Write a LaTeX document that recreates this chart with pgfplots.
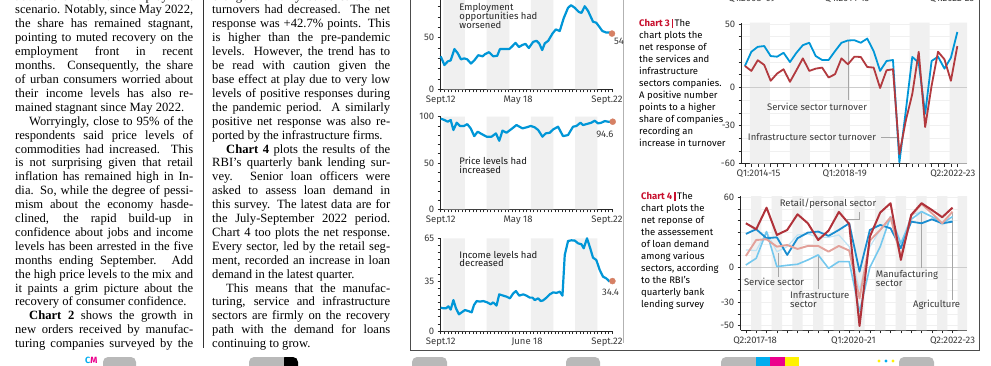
\documentclass[border=0pt]{standalone}
\usepackage{fontspec}
\setmainfont{Liberation Serif}
\newfontfamily\cf{Fira Sans}
\usepackage{pgfplots}
\pgfplotsset{compat=1.18}
\definecolor{bl}{HTML}{0096D7}
\definecolor{dotc}{HTML}{D68064}
\definecolor{cthree}{HTML}{B23A3F}
\definecolor{dred}{HTML}{B0323A}
\definecolor{cblue}{HTML}{1A8DD0}
\definecolor{salm}{HTML}{E3A19A}
\definecolor{lblue}{HTML}{74C8EE}
\definecolor{vlblue}{HTML}{BEE3F4}
\definecolor{band}{HTML}{F0F0F0}
\definecolor{chred}{HTML}{C8102E}
\definecolor{txg}{HTML}{3A3A3A}
\newcommand\jl[3]{\node[anchor=mid west,inner sep=0pt] at (#1,#2) {\makebox[178pt][s]{#3}};}
\newcommand\tl[3]{\node[anchor=mid west,inner sep=0pt] at (#1,#2) {#3};}
\newcommand\cfs{\cf\fontsize{9.5}{11}\selectfont}
\pgfplotsset{
  base/.style={scale only axis, axis x line=bottom, axis y line=left,
    axis line style={black!85,line width=0.6pt,-}, tick align=outside,
    major tick length=3pt, minor tick length=3pt,
    every tick/.style={black!85,line width=0.5pt},
    major x tick style={draw=none},
    tick label style={font=\cfs, text=txg},
    /pgf/number format/assume math mode=true, clip=false},
  small/.style={base, width=171.3pt, xmin=0, xmax=120,
    minor xtick={0,2.5,...,120}},
}
\begin{document}
\begin{tikzpicture}
\useasboundingbox (0,0) rectangle (991pt,-365pt);
\clip (0,0) rectangle (991pt,-365pt);
\fill[white] (0,0) rectangle (991pt,-365pt);
\begin{scope}[x=1pt,y=-1pt,font=\fontsize{12.6}{14}\selectfont]
% left column
\jl{15}{-2.2}{about their current employment}
\jl{15}{11.7}{scenario. Notably, since May 2022,}
\jl{15}{25.6}{the share has remained stagnant,}
\jl{15}{39.5}{pointing to muted recovery on the}
\jl{15}{53.4}{employment front in recent}
\jl{15}{67.3}{months. Consequently, the share}
\jl{15}{81.2}{of urban consumers worried about}
\jl{15}{95.1}{their income levels has also re-}
\tl{15}{109}{mained stagnant since May 2022.}
\node[anchor=mid west,inner sep=0pt] at (29,122.9) {\makebox[164pt][s]{Worryingly, close to 95\% of the}};
\jl{15}{136.8}{respondents said price levels of}
\jl{15}{150.7}{commodities had increased. This}
\jl{15}{164.6}{is not surprising given that retail}
\jl{15}{178.5}{inflation has remained high in In-}
\jl{15}{192.4}{dia. So, while the degree of pessi-}
\jl{15}{206.3}{mism about the economy hasde-}
\jl{15}{220.2}{clined, the rapid build-up in}
\jl{15}{234.1}{confidence about jobs and income}
\jl{15}{248}{levels has been arrested in the five}
\jl{15}{261.9}{months ending September. Add}
\jl{15}{275.8}{the high price levels to the mix and}
\jl{15}{289.7}{it paints a grim picture about the}
\tl{15}{303.6}{recovery of consumer confidence.}
\node[anchor=mid west,inner sep=0pt] at (29,317.5) {\makebox[164pt][s]{\textbf{Chart 2} shows the growth in}};
\jl{15}{331.4}{new orders received by manufac-}
\jl{15}{345.3}{turing companies surveyed by the}
% middle column
\jl{212}{-2.2}{change and only 9.1\% said their}
\jl{212}{11.7}{turnovers had decreased. The net}
\jl{212}{25.6}{response was +42.7\% points. This}
\jl{212}{39.5}{is higher than the pre-pandemic}
\jl{212}{53.4}{levels. However, the trend has to}
\jl{212}{67.3}{be read with caution given the}
\jl{212}{81.2}{base effect at play due to very low}
\jl{212}{95.1}{levels of positive responses during}
\jl{212}{109}{the pandemic period. A similarly}
\jl{212}{122.9}{positive net response was also re-}
\tl{212}{136.8}{ported by the infrastructure firms.}
\node[anchor=mid west,inner sep=0pt] at (226,150.7) {\makebox[164pt][s]{\textbf{Chart 4} plots the results of the}};
\jl{212}{164.6}{RBI’s quarterly bank lending sur-}
\jl{212}{178.5}{vey. Senior loan officers were}
\jl{212}{192.4}{asked to assess loan demand in}
\jl{212}{206.3}{this survey. The latest data are for}
\jl{212}{220.2}{the July-September 2022 period.}
\jl{212}{234.1}{Chart 4 too plots the net response.}
\jl{212}{248}{Every sector, led by the retail seg-}
\jl{212}{261.9}{ment, recorded an increase in loan}
\tl{212}{275.8}{demand in the latest quarter.}
\node[anchor=mid west,inner sep=0pt] at (226,289.7) {\makebox[164pt][s]{This means that the manufac-}};
\jl{212}{303.6}{turing, service and infrastructure}
\jl{212}{317.5}{sectors are firmly on the recovery}
\jl{212}{331.4}{path with the demand for loans}
\tl{212}{345.3}{continuing to grow.}
% rules and frame
\draw[black!80,line width=0.6pt] (203,0) -- (203,348);
\draw[black!70,line width=0.7pt] (410.5,0) -- (410.5,350) -- (979.5,350) -- (979.5,0);
\draw[black!30,line width=0.5pt] (623,0) -- (623,343);
% chart descriptions
\begin{scope}[font=\cfs]
\tl{639}{24}{\textcolor{chred}{\textbf{Chart 3}}\,\textcolor{chred}{\rule[-1.5pt]{1.6pt}{9pt}}\,The}
\tl{639}{36}{chart plots the}
\tl{639}{48}{net response of}
\tl{639}{60}{the services and}
\tl{639}{72}{infrastructure}
\tl{639}{84}{sectors companies.}
\tl{639}{96}{A positive number}
\tl{639}{108}{points to a higher}
\tl{639}{120}{share of companies}
\tl{639}{132}{recording an}
\tl{639}{144}{increase in turnover}
\tl{641}{197}{\textcolor{chred}{\textbf{Chart 4}}\,\textcolor{chred}{\rule[-1.5pt]{1.6pt}{9pt}}\,The}
\tl{641}{209}{chart plots the}
\tl{641}{221}{net reponse of}
\tl{641}{233}{the assessement}
\tl{641}{245}{of loan demand}
\tl{641}{257}{among various}
\tl{641}{269}{sectors, according}
\tl{641}{281}{to the RBI’s}
\tl{641}{293}{quarterly bank}
\tl{641}{305}{lending survey}
\node[text=txg] at (752,-1) {Q1:2008-09};
\node[text=txg] at (847,-1) {Q4:2014-15};
\node[text=txg] at (952,-1) {Q1:2022-23};
\end{scope}
% print marks
\node[anchor=mid west,inner sep=0pt,font=\cf\bfseries\fontsize{9}{9}\selectfont] at (85,361) {\textcolor{cyan}{C}\textcolor{magenta}{M}};
\fill[gray!55,rounded corners=5pt] (103,357) rectangle (136,372);
\fill[gray!55,rounded corners=5pt] (249,357) rectangle (285,372);
\fill[black,rounded corners=5pt] (280,357) rectangle (298,372);
\fill[gray!55] (278,357) rectangle (284,372);
\fill[gray!55,rounded corners=5pt] (412,357) rectangle (447,372);
\fill[gray!55,rounded corners=5pt] (566,357) rectangle (600,372);
\fill[gray!55,rounded corners=5pt] (721,357) rectangle (760,372);
\fill[cyan] (756,357) rectangle (770,372);
\fill[magenta] (770,357) rectangle (785,372);
\fill[yellow] (785,357) rectangle (799,372);
\fill[yellow] (879,361) circle (1.6);
\fill[cyan] (886,361) circle (1.6);
\fill[yellow] (893,361) circle (1.6);
\fill[gray!55,rounded corners=5pt] (899,357) rectangle (934,372);
\end{scope}

% ---------- Chart A: employment
\begin{axis}[small, at={(440.7pt,-89.3pt)}, anchor=south west, height=103.2pt,
  ymin=0, ymax=100, ytick={0,50}, minor ytick={10,20,30,40,60,70,80,90},
  xtick={0,54.2,116.5}, xticklabels={Sept.12,May 18,Sept.22}]
\addplot[fill=band,draw=none] coordinates {(1.8,0)(1.8,100)(17,100)(17,0)(32.2,0)(32.2,100)(48.1,100)(48.1,0)(63.1,0)(63.1,100)(78.9,100)(78.9,0)(94.1,0)(94.1,100)(109.8,100)(109.8,0)};
\addplot[bl,line width=2.2pt,line join=round] coordinates {(0,32)(2.6,23.5)(4.9,27)(7.0,28)(9.6,39)(11.9,35)(14.2,29)(16.5,30)(18.6,29)(21.2,25)(23.5,28)(26.3,33)(29.4,32)(31.0,34)(33.8,36)(36.8,32)(39.6,32.5)(41.5,39)(45.0,39)(48.0,39)(49.6,41)(52.4,45)(54.8,41)(57.3,43)(59.4,44)(61.7,40)(64.8,46)(67.1,47)(69.0,44.5)(71.1,38)(72.9,44.5)(75.3,47)(78.3,54)(80.6,58)(83.4,56.5)(86.2,69)(89.2,79)(91.3,81.5)(93.9,79)(96.7,75)(98.6,74)(100.9,80.5)(103.2,76)(106.7,65.5)(109.0,64.5)(110.9,61)(113.2,56.5)(116.0,55)(118.4,55)(120,54)};
\addplot[only marks,mark=*,mark size=3pt,dotc] coordinates {(120,54)};
\node[font=\cfs,text=txg,anchor=west,inner sep=0pt] at (axis cs:121.3,46.5) {54};
\node[font=\cfs,text=black!85,anchor=north west,align=left,inner sep=0pt] at (axis cs:13,83) {Employment\\[-2pt]opportunities had\\[-2pt]worsened};
\end{axis}

% ---------- Chart B: price
\begin{axis}[small, at={(440.7pt,-209.3pt)}, anchor=south west, height=92.6pt,
  ymin=0, ymax=100, ytick={0,50,100}, minor ytick={10,20,30,40,60,70,80,90},
  xtick={0,54.2,116.5}, xticklabels={Sept.12,May 18,Sept.22}]
\addplot[fill=band,draw=none] coordinates {(1.8,0)(1.8,100)(17,100)(17,0)(32.2,0)(32.2,100)(48.1,100)(48.1,0)(63.1,0)(63.1,100)(78.9,100)(78.9,0)(94.1,0)(94.1,100)(109.8,100)(109.8,0)};
\addplot[bl,line width=2.2pt,line join=round] coordinates {(0,98)(2.6,96.4)(4.9,94.6)(7.0,96.4)(8.9,85.6)(11.2,93.5)(13.5,90)(16.3,90)(18.6,92)(21.0,87.4)(23.5,79)(25.9,83.8)(28.7,81.3)(32.2,78.4)(35.6,78.4)(38.7,82)(41.0,74)(43.3,85)(46.1,82.7)(49.2,86.3)(53.1,91)(57.3,87.4)(60.1,88.5)(63.1,90)(65.9,88.5)(68.3,85.6)(71.3,78.4)(73.6,82)(76.4,82.7)(78.8,86.3)(82.2,89.2)(85.7,79)(89.2,80.2)(92.7,89.2)(95.1,90)(97.9,93.5)(99.7,91)(102.1,92)(105.5,93.5)(107.9,95.7)(110.2,92.8)(112.5,93.5)(114.9,95.3)(117.2,94.6)(120,94.6)};
\addplot[only marks,mark=*,mark size=3pt,dotc] coordinates {(120.5,94.6)};
\node[font=\cfs,text=txg] at (axis cs:115,81) {94.6};
\node[font=\cfs,text=black!90,anchor=north west,align=left,inner sep=0pt] at (axis cs:13,56.5) {Price levels had\\[-2.5pt]increased};
\end{axis}

% ---------- Chart C: income
\begin{axis}[small, at={(440.7pt,-331pt)}, anchor=south west, height=92.7pt,
  ymin=0, ymax=65, ytick={0,35,65}, minor ytick={5,10,...,60},
  xtick={0,60.5,116.5}, xticklabels={Sept.12,June 18,Sept.22}]
\addplot[fill=band,draw=none] coordinates {(1.8,0)(1.8,65)(17,65)(17,0)(32.2,0)(32.2,65)(48.1,65)(48.1,0)(63.1,0)(63.1,65)(78.9,65)(78.9,0)(94.1,0)(94.1,65)(109.8,65)(109.8,0)};
\addplot[bl,line width=2.2pt,line join=round] coordinates {(0,16.4)(1.9,15.9)(3.7,15.9)(5.4,17.3)(7.0,15)(8.9,21.7)(10.7,15.9)(12.8,11.7)(14.7,13.1)(17.0,14.7)(19.3,14)(21.7,13.1)(23.3,18.2)(25.2,21)(27.5,20.6)(29.8,21)(32.6,20.1)(35.0,18.7)(36.8,20.1)(39.1,17.8)(41.0,25.7)(43.8,24.8)(46.1,24.1)(48.5,22.9)(50.8,26.4)(52.7,28)(55.0,24.8)(57.8,25.7)(60.1,24.8)(62.4,23.4)(64.3,23.4)(65.9,21.7)(68.3,22.9)(70.1,21)(71.8,21.5)(74.1,23.4)(76.4,25.7)(78.8,27.1)(81.1,26.7)(83.4,27.6)(85.3,24.8)(86.9,53.3)(89.2,63.1)(91.6,63.6)(93.9,63.4)(96.2,61.5)(98.6,60.8)(100.2,58)(102.5,65)(104.9,57.5)(106.7,51.4)(109.0,49.8)(111.4,42.8)(113.7,38.1)(116.0,36.9)(118.4,34.6)};
\addplot[only marks,mark=*,mark size=3pt,dotc] coordinates {(120.3,35)};
\node[font=\cfs,text=txg] at (axis cs:119,27) {34.4};
\node[font=\cfs,text=black!90,anchor=north west,align=left,inner sep=0pt] at (axis cs:13,56) {Income levels had\\[-2.5pt]decreased};
\end{axis}

% ---------- Chart 3
\begin{axis}[base, at={(741.7pt,-163.5pt)}, anchor=south west, width=225.3pt, height=140.8pt,
  xmin=-0.5, xmax=34.5, ymin=-60, ymax=51,
  ytick={-60,-30,0,50}, yticklabels={-60,-30,0,50}, minor ytick={-50,-40,-20,-10,10,20,30,40},
  xtick={2.1,15.5,32.3}, xticklabels={Q1:2014-15,Q1:2018-19,Q2:2022-23},
  minor xtick={0,...,33}, ymajorgrids, yminorgrids, grid style={black!6,line width=0.4pt}]
\addplot[fill=band,draw=none] coordinates {(0.78,-60)(0.78,51)(3.88,51)(3.88,-60)(6.99,-60)(6.99,51)(10.1,51)(10.1,-60)(13.2,-60)(13.2,51)(16.3,51)(16.3,-60)(19.4,-60)(19.4,51)(22.5,51)(22.5,-60)(25.6,-60)(25.6,51)(28.7,51)(28.7,-60)(31.8,-60)(31.8,51)(34.5,51)(34.5,-60)};
\addplot[black!20,line width=0.6pt] coordinates {(-0.5,0)(34.5,0)};
\addplot[gray!70,line width=0.5pt] coordinates {(16,37)(16,-9.6)};
\addplot[gray!70,line width=0.5pt] coordinates {(21.2,-39.3)(24,-39.3)};
\addplot[bl,line width=1.8pt,line join=round] coordinates {(0,16.9)(1,28.1)(2,32)(3,32.6)(4,24.7)(5,24.2)(6,27.3)(7,20)(8,27.3)(9,33.3)(10,35.2)(11,24.7)(12,21.6)(13,21.6)(14,28.6)(15,35.2)(16,37)(17,37.2)(18,35.2)(19,38.5)(20,28.6)(21,13)(22,20.8)(23,21.6)(24,-59.1)(25,-18.2)(26,24)(27,19.5)(28,-20.8)(29,20.8)(30,24.2)(31,14.8)(32,23.4)(33,43.7)};
\addplot[cthree,line width=1.8pt,line join=round] coordinates {(0,16.9)(1,13)(2,21.4)(3,17.7)(4,5.2)(5,10.9)(6,14.3)(7,4.4)(8,13.5)(9,22.9)(10,13)(11,14.8)(12,15.6)(13,7.8)(14,10.4)(15,22.9)(16,18.2)(17,24.2)(18,24)(19,16.1)(20,15.6)(21,-0.5)(22,13.5)(23,14.3)(24,-52.6)(25,-26)(26,-5.2)(27,28.1)(28,-31.3)(29,1.3)(30,28.1)(31,22.1)(32,5.2)(33,32.6)};
\node[font=\cfs,text=txg] at (axis cs:11.2,-15.1) {Service sector turnover};
\node[font=\cfs,text=txg,anchor=east] at (axis cs:20.9,-39.3) {Infrastructure sector turnover};
\end{axis}

% ---------- Chart 4
\begin{axis}[base, at={(740.7pt,-330.3pt)}, anchor=south west, width=226.3pt, height=134.2pt,
  xmin=-0.5, xmax=21.4, ymin=-54, ymax=61,
  ytick={-50,-30,0,60}, yticklabels={-50,-30,0,60}, minor ytick={-40,-20,-10,10,20,30,40,50},
  xtick={0.9,10.4,20.0}, xticklabels={Q2:2017-18,Q1:2020-21,Q2:2022-23},
  minor xtick={0,...,20}, ymajorgrids, yminorgrids, grid style={black!6,line width=0.4pt}]
\addplot[fill=band,draw=none] coordinates {(0.5,-54)(0.5,61)(1.5,61)(1.5,-54)(2.5,-54)(2.5,61)(3.5,61)(3.5,-54)(4.5,-54)(4.5,61)(5.5,61)(5.5,-54)(6.5,-54)(6.5,61)(7.5,61)(7.5,-54)(8.5,-54)(8.5,61)(9.5,61)(9.5,-54)(10.5,-54)(10.5,61)(11.5,61)(11.5,-54)(12.5,-54)(12.5,61)(13.5,61)(13.5,-54)(14.5,-54)(14.5,61)(15.5,61)(15.5,-54)(16.5,-54)(16.5,61)(17.5,61)(17.5,-54)(18.5,-54)(18.5,61)(19.5,61)(19.5,-54)(20.5,-54)(20.5,61)(21.4,61)(21.4,-54)};
\addplot[black!20,line width=0.6pt] coordinates {(-0.5,0)(21.4,0)};
\addplot[gray!70,line width=0.5pt] coordinates {(9.76,41.1)(10.98,41.1)(10.98,47.6)};
\addplot[gray!70,line width=0.5pt] coordinates {(3.12,12.2)(3.12,-8.3)};
\addplot[gray!70,line width=0.5pt] coordinates {(7,10.5)(7,-18.6)};
\addplot[gray!70,line width=0.5pt] coordinates {(17,46.5)(17,-0.6)};
\addplot[gray!70,line width=0.5pt] coordinates {(20,46.5)(20,-28)};
\addplot[vlblue,line width=1.2pt,line join=round] coordinates {(0,14.9)(1,14.3)(2,30.6)(3,13.4)(4,17.7)(5,27.7)(6,28.6)(7,25.7)(8,25.7)(9,27.7)(10,17.7)(11,-19.4)(12,17.7)(13,32)(14,40.6)(15,19.1)(16,44.9)(17,47.7)(18,43.4)(19,36.3)(20,40.6)};
\addplot[lblue,line width=1.6pt,line join=round] coordinates {(0,2)(1,7.7)(2,30.6)(3,0.6)(4,1.7)(5,2.6)(6,6.3)(7,10.6)(8,-0.9)(9,4.9)(10,4.9)(11,-38)(12,0)(13,17.7)(14,43.4)(15,20.6)(16,41.1)(17,47.7)(18,43.4)(19,37.7)(20,43.4)};
\addplot[cblue,line width=1.8pt,line join=round] coordinates {(0,28.6)(1,32.6)(2,24.9)(3,25.7)(4,10.6)(5,24.9)(6,29.7)(7,30.6)(8,26.9)(9,32)(10,37.7)(11,-3.7)(12,32)(13,36.3)(14,33.4)(15,16.3)(16,39.1)(17,37.7)(18,41.1)(19,37.7)(20,39.1)};
\addplot[salm,line width=1.9pt,line join=round] coordinates {(0,9.7)(1,23.4)(2,24)(3,17.7)(4,19.1)(5,15.7)(6,18.3)(7,18.3)(8,13.4)(9,18.3)(10,14.3)(11,-26.6)(12,22.9)(13,32)(14,42.9)(15,8.6)(16,44)(17,54.3)(18,46.3)(19,37.7)(20,47.7)};
\addplot[dred,line width=2pt,line join=round] coordinates {(0,37.7)(1,32.6)(2,51.1)(3,27.7)(4,32)(5,45.4)(6,37.7)(7,23.4)(8,31.4)(9,47.4)(10,37.1)(11,-50.3)(12,26.3)(13,46.9)(14,54.9)(15,6.3)(16,44.9)(17,54.9)(18,49.1)(19,42.9)(20,51.1)};
\node[font=\cfs,text=txg] at (axis cs:7.95,54.2) {Retail/personal sector};
\node[font=\cfs,text=txg] at (axis cs:2.73,-12.6) {Service sector};
\node[font=\cfs,text=txg,anchor=north west,align=left,inner sep=0pt] at (axis cs:4.27,-20.5) {Infrastructure\\[-2.5pt]sector};
\node[font=\cfs,text=txg,anchor=north west,align=left,inner sep=0pt] at (axis cs:12.56,-2.5) {Manufacturing\\[-2.5pt]sector};
\node[font=\cfs,text=txg,anchor=west,inner sep=0pt] at (axis cs:16.16,-32.3) {Agriculture};
\end{axis}
\end{tikzpicture}
\end{document}
